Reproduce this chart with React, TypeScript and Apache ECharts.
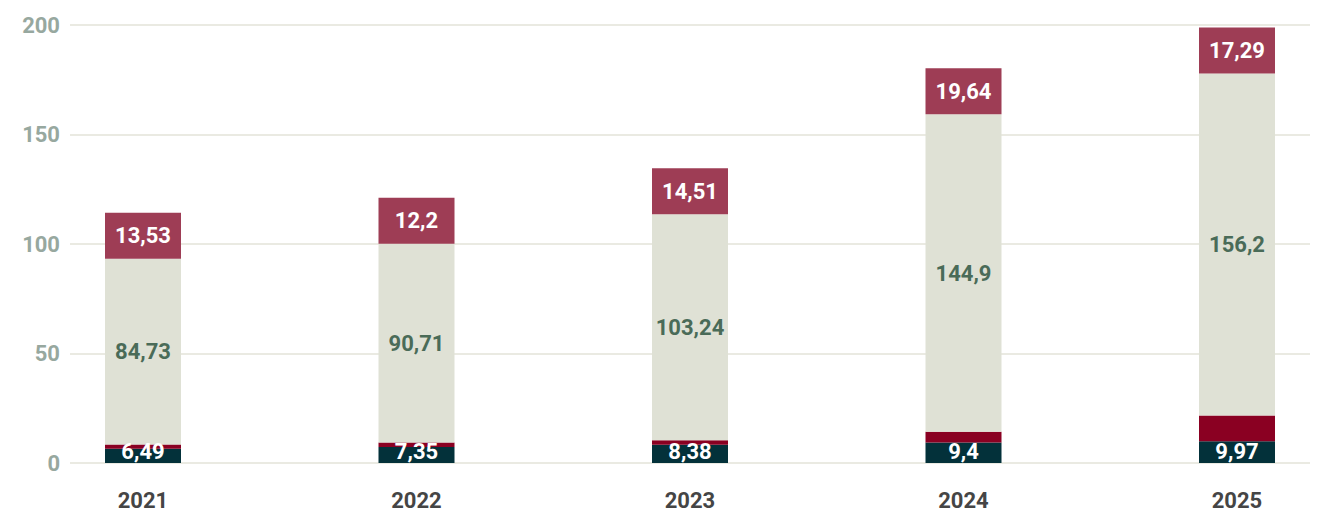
import React, { useEffect, useRef } from "react";
import * as echarts from "echarts";

const years = ["2021", "2022", "2023", "2024", "2025"];
const baseValues = [6.49, 7.35, 8.38, 9.4, 9.97];
const redValues = [2.0, 2.0, 2.0, 4.9, 11.7];
const midValues = [84.73, 90.71, 103.24, 144.9, 156.2];
const topValues = [13.53, 12.2, 14.51, 19.64, 17.29];
const yTicks = { min: 0, max: 200, interval: 50 };

const FONT = "Roboto, 'Liberation Sans', sans-serif";
const fmt = (p: any) => String(p.value).replace(".", ",");

export default function App() {
  const ref = useRef<HTMLDivElement>(null);
  useEffect(() => {
    document.body.style.margin = "0";
    if (!ref.current) return;
    const chart = echarts.init(ref.current, undefined, { renderer: "svg" });
    const barCommon = {
      type: "bar" as const,
      stack: "total",
      xAxisIndex: 1,
      yAxisIndex: 1,
      barWidth: 76,
    };
    const valueLabel = {
      show: true,
      formatter: fmt,
      fontSize: 22,
      fontWeight: "bold",
      fontFamily: FONT,
    };
    chart.setOption({
      animation: false,
      textStyle: { fontFamily: FONT },
      grid: [
        { left: 70, right: 9, top: 25, bottom: 52, outerBoundsMode: "none" },
        { left: 143, right: 82, top: 25, bottom: 52, outerBoundsMode: "none" },
      ],
      xAxis: [
        { type: "value", gridIndex: 0, show: false, min: 0, max: 1 },
        {
          type: "category",
          gridIndex: 1,
          data: years,
          boundaryGap: false,
          axisLine: { show: false },
          axisTick: { show: false },
          axisLabel: {
            margin: 26,
            fontSize: 22,
            fontWeight: "bold",
            color: "#454545",
            fontFamily: FONT,
          },
        },
      ],
      yAxis: [
        {
          type: "value",
          gridIndex: 0,
          ...yTicks,
          axisLine: { show: false },
          axisTick: { show: false },
          axisLabel: {
            margin: 10,
            fontSize: 22,
            fontWeight: "bold",
            color: "#97a89f",
            fontFamily: FONT,
          },
          splitLine: { lineStyle: { color: "#e3e3d9", width: 1.5 } },
        },
        { type: "value", gridIndex: 1, ...yTicks, show: false, splitLine: { show: false } },
      ],
      series: [
        {
          ...barCommon,
          name: "base",
          data: baseValues,
          itemStyle: { color: "#03313a" },
          label: { ...valueLabel, position: "insideBottom", distance: 1, color: "#ffffff" },
        },
        {
          ...barCommon,
          name: "red",
          data: redValues,
          itemStyle: { color: "#8a0022" },
        },
        {
          ...barCommon,
          name: "mid",
          data: midValues,
          itemStyle: { color: "#dfe1d5" },
          label: { ...valueLabel, position: "inside", color: "#4a6b58" },
        },
        {
          ...barCommon,
          name: "top",
          data: topValues,
          barMinHeight: 46,
          itemStyle: { color: "#9e3d55" },
          label: { ...valueLabel, position: "inside", color: "#ffffff" },
        },
      ],
    });
    return () => chart.dispose();
  }, []);
  return <div ref={ref} style={{ width: 1319, height: 515 }} />;
}
